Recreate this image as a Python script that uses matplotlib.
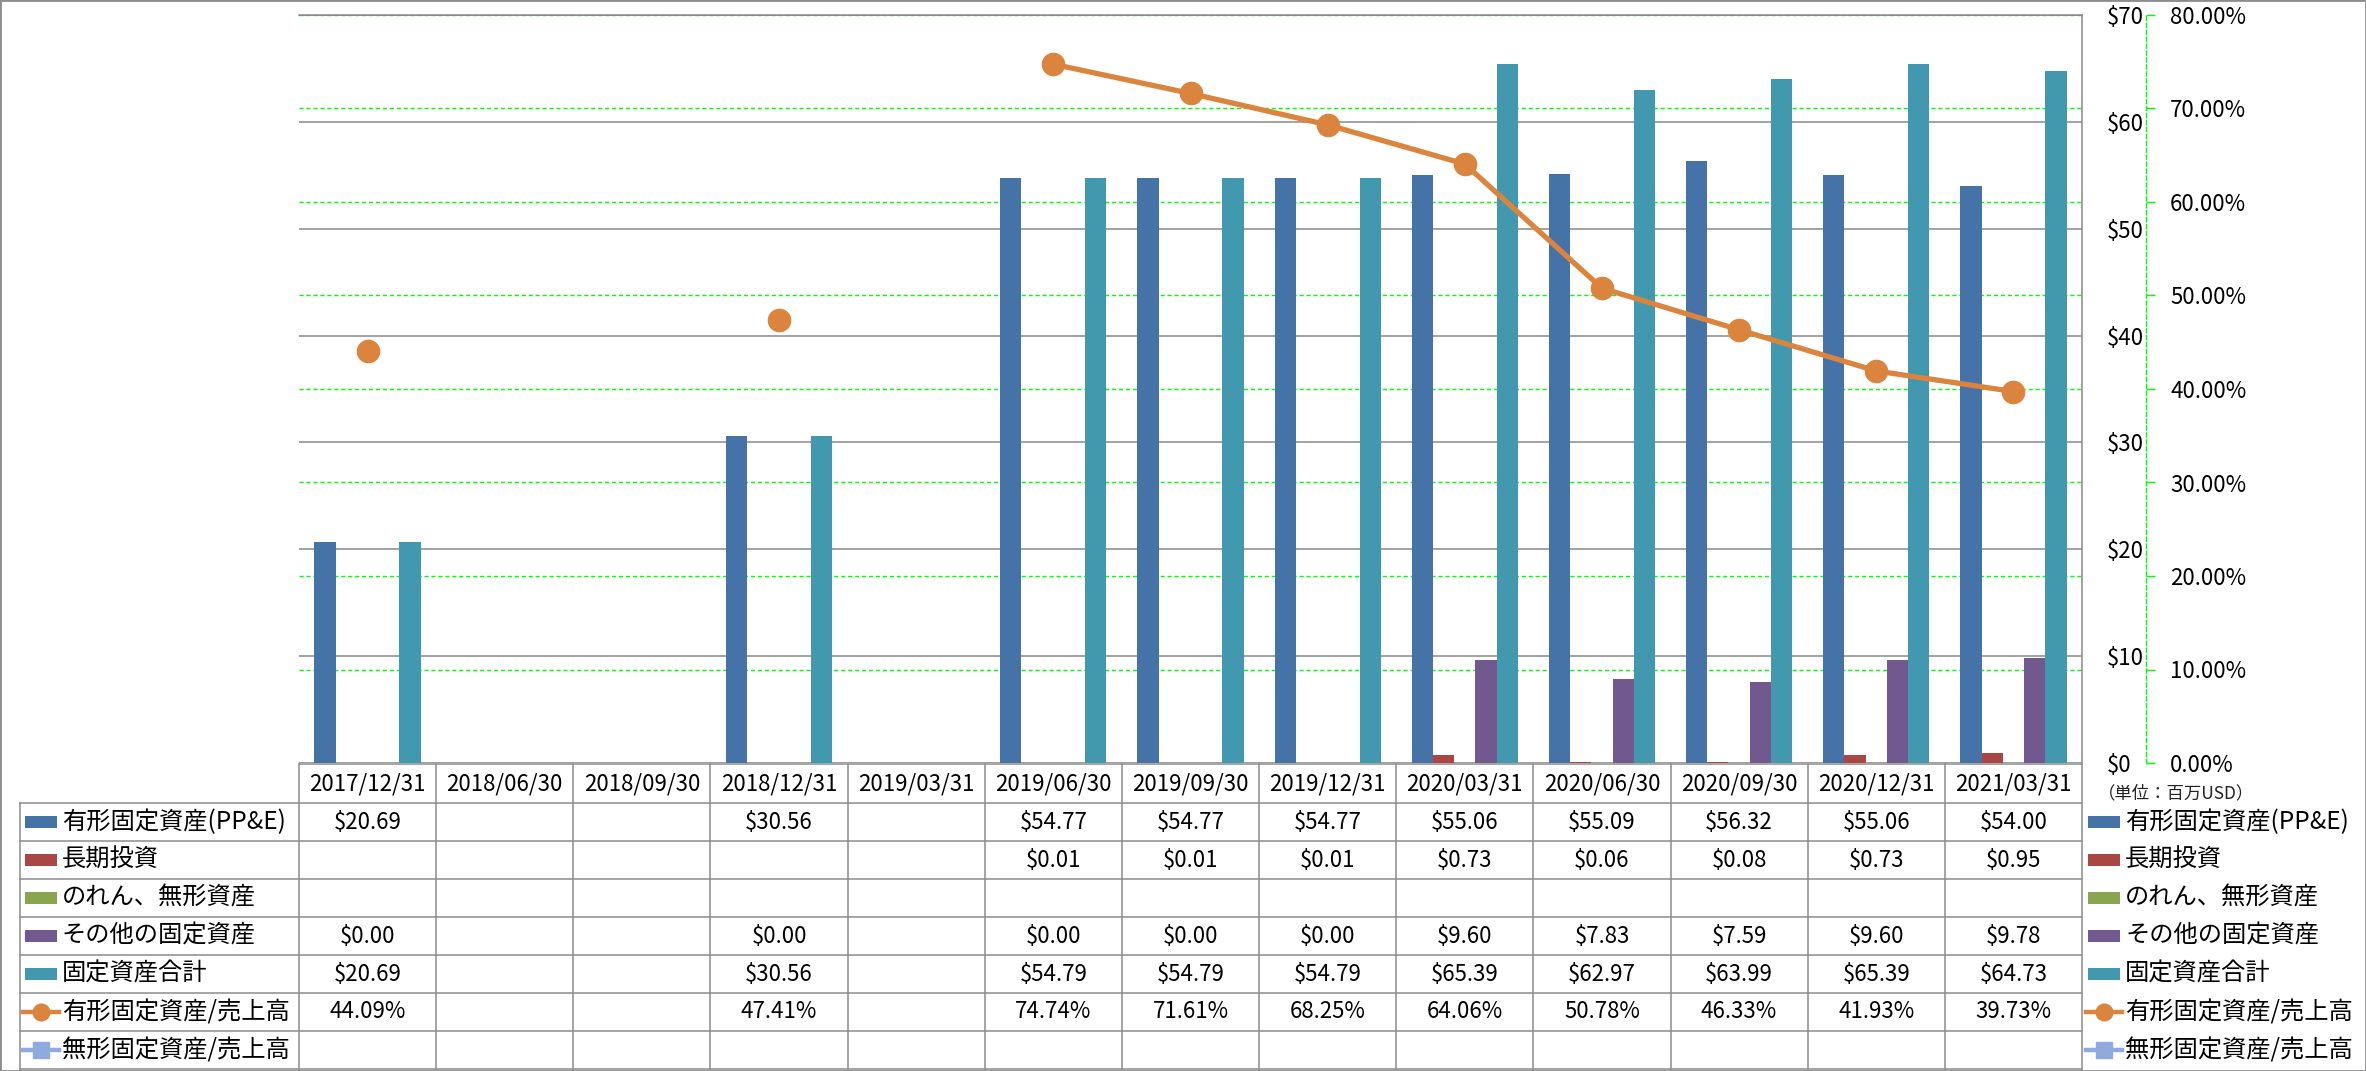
import numpy as np
import matplotlib
matplotlib.use("Agg")
import matplotlib.pyplot as plt
from matplotlib.lines import Line2D
from matplotlib.patches import Rectangle
from matplotlib.transforms import blended_transform_factory
from matplotlib.ticker import FuncFormatter, MultipleLocator

plt.rcParams['font.family'] = ['Noto Sans CJK JP', 'DejaVu Sans']

nan = np.nan

# data (values in million USD)
dates = ['2017/12/31', '2018/06/30', '2018/09/30', '2018/12/31', '2019/03/31',
         '2019/06/30', '2019/09/30', '2019/12/31', '2020/03/31', '2020/06/30',
         '2020/09/30', '2020/12/31', '2021/03/31']
ppe = [20.69, nan, nan, 30.56, nan, 54.77, 54.77, 54.77, 55.06, 55.09, 56.32, 55.06, 54.00]
lt_invest = [nan, nan, nan, nan, nan, 0.01, 0.01, 0.01, 0.73, 0.06, 0.08, 0.73, 0.95]
goodwill = [nan] * 13
other_fixed = [0.00, nan, nan, 0.00, nan, 0.00, 0.00, 0.00, 9.60, 7.83, 7.59, 9.60, 9.78]
total_fixed = [20.69, nan, nan, 30.56, nan, 54.79, 54.79, 54.79, 65.39, 62.97, 63.99, 65.39, 64.73]
ppe_ratio = [44.09, nan, nan, 47.41, nan, 74.74, 71.61, 68.25, 64.06, 50.78, 46.33, 41.93, 39.73]
intang_ratio = [nan] * 13

bar_names = ['有形固定資産(PP&E)', '長期投資', 'のれん、無形資産', 'その他の固定資産', '固定資産合計']
line_names = ['有形固定資産/売上高', '無形固定資産/売上高']
bar_colors = ['#4572A7', '#AA4643', '#89A54E', '#71588F', '#4198AF']
line_colors = ['#DB843D', '#8FAADC']

W, H = 2366, 1071
fig = plt.figure(figsize=(W / 100, H / 100), dpi=100)

def fx(x):
    return x / W

def fy(y):
    return 1 - y / H

# plot area in pixels
L, R, T, B = 299, 2082, 15, 763
pos = [fx(L), fy(B), fx(R) - fx(L), fy(T) - fy(B)]
x = np.arange(len(dates))

# bottom layer: percent axis with green dashed grid
ax_pct = fig.add_axes(pos, zorder=0)
ax_pct.set_xlim(-0.5, len(dates) - 0.5)
ax_pct.set_ylim(0, 0.8)
ax_pct.yaxis.set_major_locator(MultipleLocator(0.1))
ax_pct.yaxis.set_major_formatter(FuncFormatter(lambda v, p: f'{v * 100:.2f}%'))
ax_pct.yaxis.tick_right()
ax_pct.grid(axis='y', color='#00FF00', linestyle=(0, (3, 2)), linewidth=1.0)
ax_pct.set_xticks([])
for s in ['top', 'left', 'bottom']:
    ax_pct.spines[s].set_visible(False)
ax_pct.spines['right'].set_position(('outward', 46))
ax_pct.spines['right'].set_color('#00FF00')
ax_pct.spines['right'].set_linestyle((0, (3, 2)))
ax_pct.spines['right'].set_linewidth(1.0)
ax_pct.tick_params(axis='y', length=6.5, width=1.0, color='#00FF00', pad=11,
                   labelsize=16, labelcolor='black')

# middle layer: bars on the dollar scale
ax = fig.add_axes(pos, zorder=1)
ax.patch.set_visible(False)
ax.set_xlim(-0.5, len(dates) - 0.5)
ax.set_ylim(0, 70)
ax.yaxis.set_major_locator(MultipleLocator(10))
ax.yaxis.set_major_formatter(FuncFormatter(lambda v, p: f'${v:.0f}'))
ax.yaxis.tick_right()
ax.tick_params(axis='y', length=0, pad=18, labelsize=16)
ax.set_xticks([])
ax.grid(axis='y', color='#898989', linewidth=1.1)
ax.set_axisbelow(True)
for s in ['left', 'bottom']:
    ax.spines[s].set_visible(False)
ax.spines['top'].set_color('#898989')
ax.spines['right'].set_color('#898989')
ax.spines['top'].set_linewidth(1.1)
ax.spines['right'].set_linewidth(1.1)

bw = 0.155
series = [ppe, lt_invest, goodwill, other_fixed, total_fixed]
for k, (vals, col) in enumerate(zip(series, bar_colors)):
    v = np.array(vals, dtype=float)
    ok = ~np.isnan(v)
    ax.bar(x[ok] + (k - 2) * bw, v[ok], width=bw, color=col, zorder=2)

# top layer: ratio lines
ax_line = fig.add_axes(pos, zorder=2, sharex=ax, sharey=ax_pct)
ax_line.patch.set_visible(False)
ax_line.axis('off')
ax_line.plot(x, np.array(ppe_ratio) / 100, color=line_colors[0], lw=3.8,
             marker='o', ms=16, mec=line_colors[0], solid_capstyle='round')
ax_line.plot(x, np.array(intang_ratio) / 100, color=line_colors[1], lw=3.8,
             marker='s', ms=14)

# unit note
fig.text(fx(2098), fy(793), '（単位：百万USD）', fontsize=12.5, color='#222222',
         ha='left', va='center')

# data table under the chart
grid_col = '#8c8c8c'
tlw = 1.1
row_edges = [803, 841, 879, 917, 955, 993, 1031, 1069]
bt = blended_transform_factory(ax.transData, fig.transFigure)

# horizontal table lines
fig.add_artist(Line2D([fx(L), fx(R)], [fy(764), fy(764)], color=grid_col, lw=tlw))
for ry in row_edges:
    fig.add_artist(Line2D([fx(20), fx(R)], [fy(ry), fy(ry)], color=grid_col, lw=tlw))
# vertical table lines
fig.add_artist(Line2D([fx(20), fx(20)], [fy(803), fy(1069)], color=grid_col, lw=tlw))
for k in range(len(dates) + 1):
    fig.add_artist(Line2D([k - 0.5, k - 0.5], [fy(764), fy(1069)], color=grid_col,
                          lw=tlw, transform=bt))

# header dates
for i, d in enumerate(dates):
    fig.text(i, fy(784), d, transform=bt, ha='center', va='center', fontsize=16)

def fmt_money(v):
    return '' if np.isnan(v) else f'${v:.2f}'

def fmt_pct(v):
    return '' if np.isnan(v) else f'{v:.2f}%'

rows = [(ppe, fmt_money), (lt_invest, fmt_money), (goodwill, fmt_money),
        (other_fixed, fmt_money), (total_fixed, fmt_money),
        (ppe_ratio, fmt_pct), (intang_ratio, fmt_pct)]
for r, (vals, f) in enumerate(rows):
    yc = (row_edges[r] + row_edges[r + 1]) / 2
    for i, v in enumerate(vals):
        s = f(float(v))
        if s:
            fig.text(i, fy(yc), s, transform=bt, ha='center', va='center', fontsize=16)

# legend keys, both in the table label column and on the right side
def legend_key(x0, yc, r):
    if r < 5:
        fig.add_artist(Rectangle((fx(x0 + 3), fy(yc + 6)), fx(32), 12 / H,
                                 color=bar_colors[r], lw=0))
    else:
        c = line_colors[r - 5]
        m = 'o' if r == 5 else 's'
        fig.add_artist(Line2D([fx(x0 + 1), fx(x0 + 37)], [fy(yc), fy(yc)], color=c,
                              lw=3.2))
        fig.add_artist(Line2D([fx(x0 + 19)], [fy(yc)], color=c, marker=m,
                              ms=12, mec=c, lw=0))

names = bar_names + line_names
for r, nm in enumerate(names):
    yc = (row_edges[r] + row_edges[r + 1]) / 2
    legend_key(22, yc, r)
    fig.text(fx(62), fy(yc), nm, ha='left', va='center', fontsize=17.5)
    legend_key(2085, yc, r)
    fig.text(fx(2125), fy(yc), nm, ha='left', va='center', fontsize=17.5)

# outer border
fig.add_artist(Rectangle((0, 0), 1, 1, fill=False, edgecolor='#8c8c8c', lw=2,
                         transform=fig.transFigure))

fig.savefig('out.png', dpi=100)
